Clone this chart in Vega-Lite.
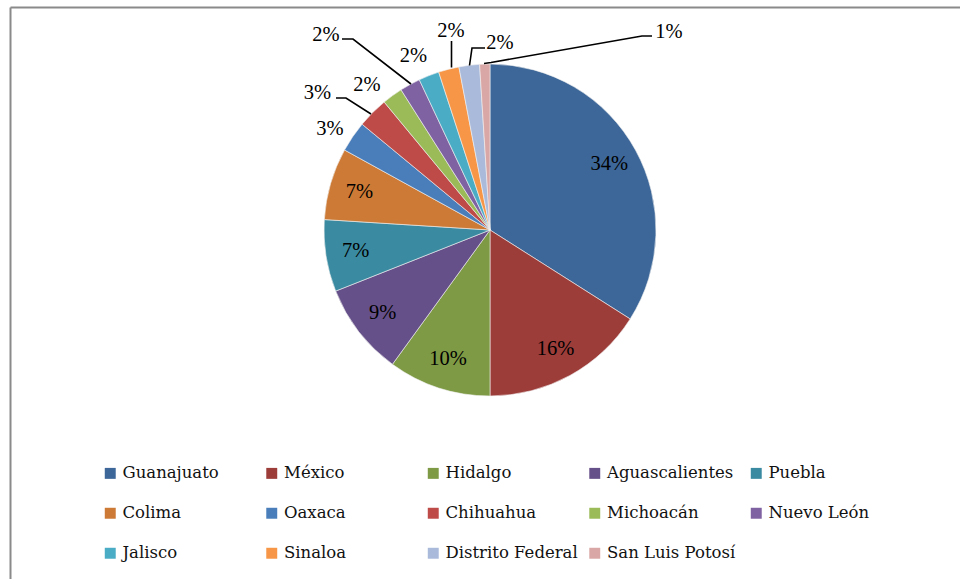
{
  "$schema": "https://vega.github.io/schema/vega-lite/v6.json",
  "autosize": {"type": "none"},
  "width": 950,
  "height": 572,
  "padding": {"left": 10, "top": 7, "right": 0, "bottom": 0},
  "background": "#ffffff",
  "datasets": {
    "estados": [
      {"orden": 1, "estado": "Guanajuato", "pct": 0.34},
      {"orden": 2, "estado": "México", "pct": 0.16},
      {"orden": 3, "estado": "Hidalgo", "pct": 0.10},
      {"orden": 4, "estado": "Aguascalientes", "pct": 0.09},
      {"orden": 5, "estado": "Puebla", "pct": 0.07},
      {"orden": 6, "estado": "Colima", "pct": 0.07},
      {"orden": 7, "estado": "Oaxaca", "pct": 0.03},
      {"orden": 8, "estado": "Chihuahua", "pct": 0.03},
      {"orden": 9, "estado": "Michoacán", "pct": 0.02},
      {"orden": 10, "estado": "Nuevo León", "pct": 0.02},
      {"orden": 11, "estado": "Jalisco", "pct": 0.02},
      {"orden": 12, "estado": "Sinaloa", "pct": 0.02},
      {"orden": 13, "estado": "Distrito Federal", "pct": 0.02},
      {"orden": 14, "estado": "San Luis Potosí", "pct": 0.01}
    ],
    "rotulos": [
      {"estado": "Oaxaca", "lx": -0.9639, "ly": 0.6114},
      {"estado": "Chihuahua", "lx": -1.0392, "ly": 0.8253},
      {"estado": "Michoacán", "lx": -0.7410, "ly": 0.8765},
      {"estado": "Nuevo León", "lx": -0.9880, "ly": 1.1717},
      {"estado": "Jalisco", "lx": -0.4608, "ly": 1.0452},
      {"estado": "Sinaloa", "lx": -0.2349, "ly": 1.1958},
      {"estado": "Distrito Federal", "lx": 0.0602, "ly": 1.1235},
      {"estado": "San Luis Potosí", "lx": 1.0783, "ly": 1.1928}
    ],
    "guias": [
      {"estado": "Chihuahua", "paso": 1, "gx": -0.9277, "gy": 0.7952},
      {"estado": "Chihuahua", "paso": 2, "gx": -0.8675, "gy": 0.7952},
      {"estado": "Chihuahua", "paso": 3, "gx": -0.7169, "gy": 0.6988},
      {"estado": "Nuevo León", "paso": 1, "gx": -0.8916, "gy": 1.1506},
      {"estado": "Nuevo León", "paso": 2, "gx": -0.8253, "gy": 1.1506},
      {"estado": "Nuevo León", "paso": 3, "gx": -0.4759, "gy": 0.8795},
      {"estado": "Sinaloa", "paso": 1, "gx": -0.2319, "gy": 1.1386},
      {"estado": "Sinaloa", "paso": 2, "gx": -0.2319, "gy": 0.9789},
      {"estado": "Distrito Federal", "paso": 1, "gx": -0.1235, "gy": 0.9910},
      {"estado": "Distrito Federal", "paso": 2, "gx": -0.1084, "gy": 1.0964},
      {"estado": "Distrito Federal", "paso": 3, "gx": -0.0301, "gy": 1.0964},
      {"estado": "San Luis Potosí", "paso": 1, "gx": -0.0361, "gy": 1.0030},
      {"estado": "San Luis Potosí", "paso": 2, "gx": 0.0060, "gy": 1.0090},
      {"estado": "San Luis Potosí", "paso": 3, "gx": 0.9157, "gy": 1.1687},
      {"estado": "San Luis Potosí", "paso": 4, "gx": 0.9759, "gy": 1.1687}
    ]
  },
  "layer": [
    {
      "data": {"name": "estados"},
      "mark": {"type": "arc", "outerRadius": 166, "stroke": "#f2f2f2", "strokeWidth": 0.6},
      "encoding": {
        "x": {"datum": 0, "type": "quantitative", "title": null,
              "scale": {"domain": [-2.891566, 2.831325], "nice": false, "zero": false},
              "axis": {"orient": "top"}},
        "y": {"datum": 0, "type": "quantitative", "title": null,
              "scale": {"domain": [-2.10241, 1.343373], "nice": false, "zero": false},
              "axis": {"orient": "left"}},
        "theta": {"field": "pct", "type": "quantitative", "stack": true},
        "order": {"field": "orden", "type": "quantitative"},
        "color": {
          "field": "estado", "type": "nominal", "title": null,
          "scale": {
            "domain": ["Guanajuato", "México", "Hidalgo", "Aguascalientes", "Puebla", "Colima", "Oaxaca", "Chihuahua", "Michoacán", "Nuevo León", "Jalisco", "Sinaloa", "Distrito Federal", "San Luis Potosí"],
            "range": ["#3d6798", "#9d3d3a", "#7e9a45", "#665089", "#3a8ba1", "#cc7a35", "#4a7ebb", "#be4b48", "#9bbb59", "#7f62a1", "#4bacc6", "#f79646", "#a9badb", "#d9a7a6"]
          },
          "legend": {
            "orient": "none",
            "legendX": 92,
            "legendY": 458,
            "direction": "horizontal",
            "columns": 5,
            "gridAlign": "all",
            "columnPadding": 8.5,
            "rowPadding": 23,
            "padding": 0,
            "symbolType": "square",
            "symbolSize": 120,
            "symbolStrokeWidth": 0,
            "labelFont": "DejaVu Serif",
            "labelFontSize": 16.5,
            "labelColor": "#111111",
            "labelOffset": 4,
            "labelLimit": 0
          }
        }
      }
    },
    {
      "data": {"name": "estados"},
      "mark": {"type": "text", "radius": 136, "font": "Liberation Serif", "fontSize": 20.5, "color": "#000000", "align": "center", "baseline": "middle"},
      "encoding": {
        "x": {"datum": 0, "type": "quantitative", "title": null,
              "scale": {"domain": [-2.891566, 2.831325], "nice": false, "zero": false},
              "axis": {"orient": "top"}},
        "y": {"datum": 0, "type": "quantitative", "title": null,
              "scale": {"domain": [-2.10241, 1.343373], "nice": false, "zero": false},
              "axis": {"orient": "left"}},
        "theta": {"field": "pct", "type": "quantitative", "stack": true},
        "order": {"field": "orden", "type": "quantitative"},
        "detail": {"field": "estado", "type": "nominal"},
        "text": {
          "condition": {"test": "datum.pct >= 0.05", "field": "pct", "type": "quantitative", "format": ".0%"},
          "value": ""
        }
      }
    },
    {
      "data": {"name": "guias"},
      "mark": {"type": "line", "color": "#000000", "strokeWidth": 1.6, "strokeJoin": "miter"},
      "encoding": {
        "x": {"field": "gx", "type": "quantitative", "title": null,
              "scale": {"domain": [-2.891566, 2.831325], "nice": false, "zero": false},
              "axis": {"orient": "top"}},
        "y": {"field": "gy", "type": "quantitative", "title": null,
              "scale": {"domain": [-2.10241, 1.343373], "nice": false, "zero": false},
              "axis": {"orient": "left"}},
        "detail": {"field": "estado", "type": "nominal"},
        "order": {"field": "paso", "type": "quantitative"}
      }
    },
    {
      "data": {"name": "rotulos"},
      "transform": [
        {"lookup": "estado", "from": {"data": {"name": "estados"}, "key": "estado", "fields": ["pct"]}}
      ],
      "mark": {"type": "text", "font": "Liberation Serif", "fontSize": 20.5, "color": "#000000", "align": "center", "baseline": "middle"},
      "encoding": {
        "x": {"field": "lx", "type": "quantitative", "title": null,
              "scale": {"domain": [-2.891566, 2.831325], "nice": false, "zero": false},
              "axis": {"orient": "top"}},
        "y": {"field": "ly", "type": "quantitative", "title": null,
              "scale": {"domain": [-2.10241, 1.343373], "nice": false, "zero": false},
              "axis": {"orient": "left"}},
        "text": {"field": "pct", "type": "quantitative", "format": ".0%"}
      }
    }
  ],
  "config": {
    "view": {"stroke": null},
    "axis": {
      "labels": false, "ticks": false, "grid": false,
      "domain": true, "domainColor": "#8a8a8a", "domainWidth": 2
    }
  }
}
